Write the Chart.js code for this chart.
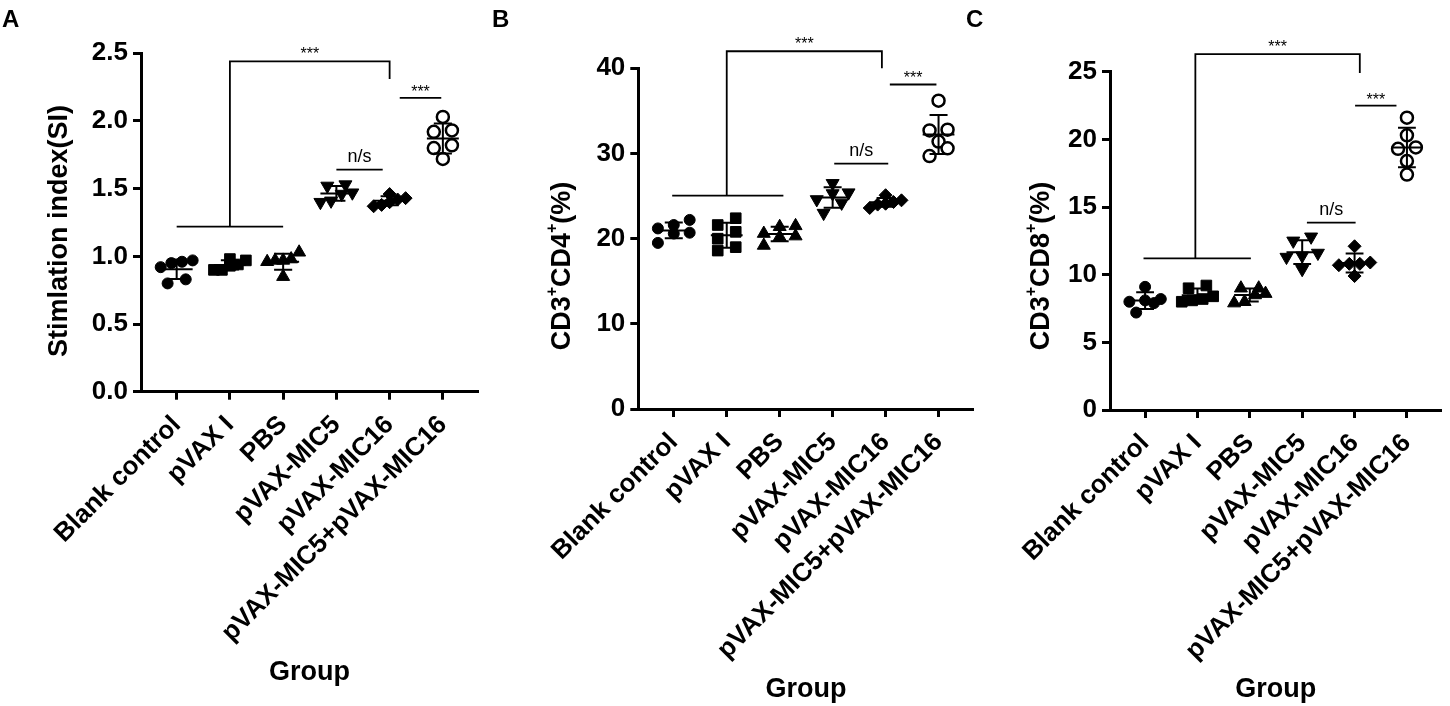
<!DOCTYPE html>
<html>
<head>
<meta charset="utf-8">
<script src="https://cdn.jsdelivr.net/npm/chart.js@4"></script>
<style>
  body { margin: 0; background: #fff; }
  #wrap { position: relative; width: 1450px; height: 706px; overflow: hidden; }
  canvas { position: absolute; top: 0; }
</style>
</head>
<body>
<div id="wrap">
  <canvas id="chartA" width="490" height="706" style="left:0px"></canvas>
  <canvas id="chartB" width="500" height="706" style="left:482px"></canvas>
  <canvas id="chartC" width="486" height="706" style="left:964px"></canvas>
</div>
<script>
const grupos = ["Blank control", "pVAX I", "PBS", "pVAX-MIC5", "pVAX-MIC16", "pVAX-MIC5+pVAX-MIC16"];

// A - indice de estimulacao (SI)
const siBlank = [0.96, 0.97, 0.95, 0.92, 0.83, 0.80];
const siPvax = [0.90, 0.98, 0.94, 0.97, 0.93, 0.90];
const siPbs = [0.97, 0.96, 1.03, 0.98, 0.85, 0.97];
const siMic5 = [1.52, 1.47, 1.53, 1.46, 1.40, 1.41];
const siMic16 = [1.38, 1.40, 1.43, 1.42, 1.46, 1.37];
const siCombo = [2.03, 1.92, 1.93, 1.82, 1.80, 1.72];

// B - CD3+CD4+ (%)
const cd4Blank = [20.6, 21.6, 22.2, 21.2, 20.7, 19.5];
const cd4Pvax = [20.8, 22.4, 21.6, 20.0, 19.0, 18.6];
const cd4Pbs = [19.2, 20.6, 21.4, 20.2, 21.5, 20.3];
const cd4Mic5 = [26.5, 25.4, 24.6, 23.0, 24.2, 25.3];
const cd4Mic16 = [24.0, 24.3, 24.5, 25.1, 23.6, 24.1];
const cd4Combo = [36.2, 32.7, 32.8, 31.4, 30.6, 29.7];

// C - CD3+CD8+ (%)
const cd8Blank = [9.1, 8.1, 7.2, 8.0, 7.9, 8.2];
const cd8Pvax = [9.2, 9.0, 8.4, 8.0, 8.1, 8.2];
const cd8Pbs = [7.9, 8.5, 9.0, 8.6, 9.0, 8.0];
const cd8Mic5 = [12.8, 12.5, 11.6, 11.4, 10.4, 11.3];
const cd8Mic16 = [12.1, 10.9, 10.7, 9.9, 10.8, 10.8];
const cd8Combo = [21.6, 20.3, 19.4, 19.3, 18.4, 17.4];

// significancia: chave grande (de, ate, topo, pe esquerdo, pe direito, base) e linhas simples
const sigA = {
    chave: { de: 1, ate: 4, topo: 2.44, pe1: 1.22, pe2: 2.31, base: [0, 2], texto: "***" },
    linhas: [
        { de: 3, ate: 3.87, y: 1.64, texto: "n/s" },
        { de: 4.19, ate: 4.97, y: 2.17, texto: "***" }
    ]
};
const sigB = {
    chave: { de: 1, ate: 3.93, topo: 42.0, pe1: 25.05, pe2: 40.0, base: [-0.03, 2.07], texto: "***" },
    linhas: [
        { de: 3.03, ate: 4.05, y: 28.8, texto: "n/s" },
        { de: 4.08, ate: 4.96, y: 38.1, texto: "***" }
    ]
};
const sigC = {
    chave: { de: 0.96, ate: 4.1, topo: 26.3, pe1: 11.2, pe2: 24.9, base: [-0.03, 2.02], texto: "***" },
    linhas: [
        { de: 3.09, ate: 4.02, y: 13.85, texto: "n/s" },
        { de: 4.01, ate: 4.8, y: 22.5, texto: "***" }
    ]
};

const fonte = "'Liberation Sans', Arial, sans-serif";
Chart.defaults.color = "#000";
Chart.defaults.font.family = fonte;

const estilos = [
    { pointStyle: "circle", radius: 5.5, fundo: "#000", borda: 1, rotacao: 0 },
    { pointStyle: "rect", radius: 7.5, fundo: "#000", borda: 1, rotacao: 0 },
    { pointStyle: "triangle", radius: 7.5, fundo: "#000", borda: 1, rotacao: 0 },
    { pointStyle: "triangle", radius: 7.5, fundo: "#000", borda: 1, rotacao: 180 },
    { pointStyle: "rectRot", radius: 6.5, fundo: "#000", borda: 1, rotacao: 0 },
    { pointStyle: "circle", radius: 6, fundo: "#fff", borda: 2.5, rotacao: 0 }
];

// espalha pontos de valores proximos na horizontal (tipo GraphPad)
const espalha = (valores, faixa) => {
    const ordem = valores.map((v, i) => i).sort((a, b) => valores[a] - valores[b]);
    const desvio = new Array(valores.length).fill(0);
    let linha = [];
    const fecha = () => {
        const passo = linha.length > 1 ? Math.min(0.34, 0.6 / (linha.length - 1)) : 0;
        linha.forEach((k, j) => { desvio[k] = (j - (linha.length - 1) / 2) * passo; });
        linha = [];
    };
    ordem.forEach(k => {
        if (linha.length && valores[k] - valores[linha[0]] > faixa) fecha();
        linha.push(k);
    });
    fecha();
    return desvio;
};

// titulo do eixo y girado, com sobrescrito
const tituloGirado = (ctx, partes, cx, cy) => {
    const grande = "bold 27px " + fonte;
    const pequeno = "bold 16px " + fonte;
    let total = 0;
    partes.forEach(p => { ctx.font = p[1] ? pequeno : grande; total += ctx.measureText(p[0]).width; });
    ctx.save();
    ctx.translate(cx, cy);
    ctx.rotate(-Math.PI / 2);
    ctx.textAlign = "left";
    ctx.textBaseline = "middle";
    let px = -total / 2;
    partes.forEach(p => {
        ctx.font = p[1] ? pequeno : grande;
        ctx.fillText(p[0], px, p[1] ? -10 : 0);
        px += ctx.measureText(p[0]).width;
    });
    ctx.restore();
};

const marcas = {
    id: "marcas",
    afterDatasetsDraw(chart, args, opts) {
        const ctx = chart.ctx;
        const x = chart.scales.x;
        const y = chart.scales.y;
        ctx.save();
        ctx.strokeStyle = "#000";
        ctx.fillStyle = "#000";
        ctx.lineWidth = 2;

        // media e desvio padrao
        chart.data.datasets.forEach((ds, i) => {
            const vals = ds.data.map(p => p.y);
            const media = vals.reduce((a, b) => a + b, 0) / vals.length;
            const dp = Math.sqrt(vals.reduce((a, b) => a + (b - media) ** 2, 0) / (vals.length - 1));
            const cx = x.getPixelForValue(i);
            const w = x.getPixelForValue(i + 0.3) - cx;
            const c = x.getPixelForValue(i + 0.17) - cx;
            const yM = y.getPixelForValue(media);
            const yA = y.getPixelForValue(media + dp);
            const yB = y.getPixelForValue(media - dp);
            ctx.beginPath();
            ctx.moveTo(cx - w, yM); ctx.lineTo(cx + w, yM);
            ctx.moveTo(cx - c, yA); ctx.lineTo(cx + c, yA);
            ctx.moveTo(cx - c, yB); ctx.lineTo(cx + c, yB);
            ctx.moveTo(cx, yA); ctx.lineTo(cx, yB);
            ctx.stroke();
        });

        // chaves de significancia
        const sig = opts.sig;
        const ch = sig.chave;
        ctx.lineWidth = 1.8;
        ctx.beginPath();
        ctx.moveTo(x.getPixelForValue(ch.base[0]), y.getPixelForValue(ch.pe1));
        ctx.lineTo(x.getPixelForValue(ch.base[1]), y.getPixelForValue(ch.pe1));
        ctx.moveTo(x.getPixelForValue(ch.de), y.getPixelForValue(ch.pe1));
        ctx.lineTo(x.getPixelForValue(ch.de), y.getPixelForValue(ch.topo));
        ctx.lineTo(x.getPixelForValue(ch.ate), y.getPixelForValue(ch.topo));
        ctx.lineTo(x.getPixelForValue(ch.ate), y.getPixelForValue(ch.pe2));
        ctx.stroke();
        ctx.textAlign = "center";
        ctx.textBaseline = "alphabetic";
        ctx.font = "16px " + fonte;
        ctx.fillText(ch.texto, (x.getPixelForValue(ch.de) + x.getPixelForValue(ch.ate)) / 2, y.getPixelForValue(ch.topo) - 2);

        sig.linhas.forEach(l => {
            const x1 = x.getPixelForValue(l.de);
            const x2 = x.getPixelForValue(l.ate);
            const yy = y.getPixelForValue(l.y);
            ctx.beginPath();
            ctx.moveTo(x1, yy);
            ctx.lineTo(x2, yy);
            ctx.stroke();
            if (l.texto === "n/s") {
                ctx.font = "18px " + fonte;
                ctx.fillText(l.texto, (x1 + x2) / 2, yy - 8);
            } else {
                ctx.font = "16px " + fonte;
                ctx.fillText(l.texto, (x1 + x2) / 2, yy - 1);
            }
        });

        // titulo do eixo y
        tituloGirado(ctx, opts.tituloY, opts.tituloX, opts.tituloCentro);

        // letra do painel
        ctx.textAlign = "left";
        ctx.textBaseline = "alphabetic";
        ctx.font = "bold 24px " + fonte;
        ctx.fillText(opts.letra, opts.letraX, 27);
        ctx.restore();
    }
};

const montaGrafico = (id, series, cfg) => {
    const datasets = series.map((valores, i) => {
        const desvio = espalha(valores, cfg.max * 0.03);
        const e = estilos[i];
        return {
            label: grupos[i],
            data: valores.map((v, k) => ({ x: i + desvio[k], y: v })),
            pointStyle: e.pointStyle,
            pointRadius: e.radius,
            pointRotation: e.rotacao,
            pointBackgroundColor: e.fundo,
            pointBorderColor: "#000",
            pointBorderWidth: e.borda,
            showLine: false
        };
    });

    return new Chart(document.getElementById(id), {
        type: "scatter",
        data: { datasets: datasets },
        options: {
            responsive: false,
            animation: false,
            layout: { padding: { left: 0, top: cfg.topo, right: cfg.direita, bottom: 0 } },
            plugins: {
                legend: { display: false },
                tooltip: { enabled: false },
                marcas: {
                    sig: cfg.sig, letra: cfg.letra, letraX: cfg.letraX,
                    tituloY: cfg.tituloY, tituloX: cfg.tituloX, tituloCentro: cfg.tituloCentro
                }
            },
            scales: {
                x: {
                    type: "linear",
                    min: -0.67,
                    max: 5.66,
                    afterBuildTicks: (eixo) => { eixo.ticks = grupos.map((g, i) => ({ value: i })); },
                    afterFit: (eixo) => { eixo.height = cfg.alturaX; },
                    border: { display: true, color: "#000", width: 3 },
                    grid: { drawOnChartArea: false, drawTicks: true, tickLength: 8, tickWidth: 3, tickColor: "#000" },
                    ticks: {
                        autoSkip: false,
                        minRotation: 45,
                        maxRotation: 45,
                        padding: 10,
                        font: { size: 26, weight: "bold" },
                        callback: (v) => grupos[v]
                    },
                    title: {
                        display: true,
                        text: "Group",
                        font: { size: 27, weight: "bold" },
                        padding: { top: 0, bottom: cfg.tituloXPad }
                    }
                },
                y: {
                    min: 0,
                    max: cfg.max,
                    afterFit: (eixo) => { eixo.width = cfg.larguraY; },
                    border: { display: true, color: "#000", width: 3 },
                    grid: { drawOnChartArea: false, drawTicks: true, tickLength: 8, tickWidth: 3, tickColor: "#000" },
                    ticks: {
                        stepSize: cfg.passo,
                        padding: 5,
                        font: { size: 26, weight: "bold" },
                        callback: (v) => cfg.decimais ? v.toFixed(1) : v
                    },
                    title: { display: false }
                }
            }
        },
        plugins: [marcas]
    });
};

montaGrafico("chartA", [siBlank, siPvax, siPbs, siMic5, siMic16, siCombo], {
    max: 2.5, passo: 0.5, decimais: true,
    tituloY: [["Stimlation index(SI)", false]], tituloX: 60, tituloCentro: 231,
    topo: 53.3, direita: 12, alturaX: 314.3, larguraY: 141,
    tituloXPad: 16.8, sig: sigA, letra: "A", letraX: 2
});

montaGrafico("chartB", [cd4Blank, cd4Pvax, cd4Pbs, cd4Mic5, cd4Mic16, cd4Combo], {
    max: 40, passo: 10, decimais: false,
    tituloY: [["CD3", false], ["+", true], ["CD4", false], ["+", true], ["(%)", false]], tituloX: 81, tituloCentro: 266,
    topo: 68.3, direita: 6.3, alturaX: 297, larguraY: 156.3,
    tituloXPad: 0, sig: sigB, letra: "B", letraX: 10
});

montaGrafico("chartC", [cd8Blank, cd8Pvax, cd8Pbs, cd8Mic5, cd8Mic16, cd8Combo], {
    max: 25, passo: 5, decimais: false,
    tituloY: [["CD3", false], ["+", true], ["CD8", false], ["+", true], ["(%)", false]], tituloX: 78, tituloCentro: 266,
    topo: 71.7, direita: 1, alturaX: 296, larguraY: 146,
    tituloXPad: 0, sig: sigC, letra: "C", letraX: 2
});
</script>
</body>
</html>
